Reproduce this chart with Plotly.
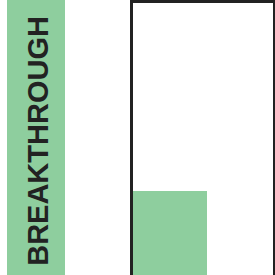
import plotly.graph_objects as go

categories = [0]
values = [31]
label = "BREAKTHROUGH"

W = H = 275
GREEN = "#8ECE9E"
DARK = "#222222"

fig = go.Figure()
fig.add_trace(go.Bar(x=categories, y=values, width=1, marker=dict(color=GREEN, line=dict(width=0))))

fig.update_layout(
    width=W, height=H,
    margin=dict(l=0, r=0, t=0, b=0),
    paper_bgcolor="white", plot_bgcolor="white",
    showlegend=False,
    bargap=0,
    xaxis=dict(domain=[133/W, 273/W], range=[-0.5, 1.39], showgrid=False, zeroline=False,
               showticklabels=False, ticks="", side="top", showline=True, linecolor=DARK, linewidth=2.5),
    yaxis=dict(domain=[0, 1 - 2.5/H], range=[0, 100], showgrid=False, zeroline=False,
               showticklabels=False, ticks="", showline=True, mirror=True, linecolor=DARK, linewidth=2.5),
    shapes=[dict(type="rect", xref="paper", yref="paper", x0=7/W, x1=65/W, y0=0, y1=1,
                 fillcolor=GREEN, line=dict(width=0), layer="below")],
    annotations=[dict(text=f"<b>{label}</b>", xref="paper", yref="paper", x=38/W, y=0.488,
                      showarrow=False, textangle=-90, font=dict(family="Liberation Sans, Arial", size=29, color=DARK),
                      xanchor="center", yanchor="middle")],
)

fig.write_html("out.html", config=dict(displayModeBar=False),
               post_script="document.body.style.margin='0';document.documentElement.style.overflow='hidden';")
